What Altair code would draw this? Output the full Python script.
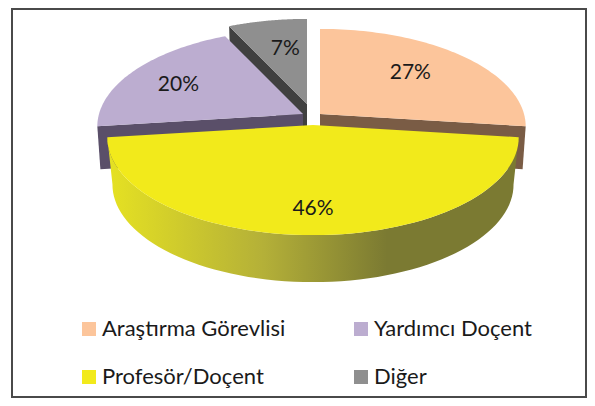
import math
import altair as alt
import pandas as pd

# ---- chart values ----
categories = ["Araştırma Görevlisi", "Profesör/Doçent", "Yardımcı Doçent", "Diğer"]
shares = [27, 46, 20, 7]
top_colors = ["#fcc59b", "#f2ea1b", "#bcadd0", "#8f8f8f"]
wall_colors = ["#7a5c45", None, "#5a4f69", "#404040"]
# exploded apex of each slice in the picture's pixel space
apex_x = [320, 313, 303, 307]
apex_y = [114, 125, 114, 104]
label_radius = [0.64, 0.76, 0.74, 0.55]
label_lift = [-4, 0, 3, -9]

RX, RY, PERSPECTIVE = 204, 96, 0.128
WALL, SIDE = 43, 47
W, H = 579, 390
ORIGIN = 8


def project(i, phi, radial=1.0, drop=0.0, shrink=1.0):
    u, v = math.sin(phi), math.cos(phi)
    s = radial / (1 + PERSPECTIVE * v)
    return (apex_x[i] + RX * u * s * shrink, apex_y[i] - RY * v * s + drop)


def bounds(i):
    start = sum(shares[:i]) / 100 * 2 * math.pi
    return start, start + shares[i] / 100 * 2 * math.pi


def arc(i, a, b, n=70, **kw):
    return [project(i, a + (b - a) * k / n, **kw) for k in range(n + 1)]


def frame_of(points, kat):
    return pd.DataFrame(
        [{"px": p[0], "py": p[1], "seq": k, "kat": kat} for k, p in enumerate(points)]
    )


x_enc = alt.X("px:Q", scale=alt.Scale(domain=[ORIGIN, ORIGIN + W]), axis=None)
y_enc = alt.Y("py:Q", scale=alt.Scale(domain=[ORIGIN + H, ORIGIN]), axis=None)


def poly(points, fill):
    return (
        alt.Chart(frame_of(points, "w"))
        .mark_line(fill=fill, strokeOpacity=0, clip=False)
        .encode(x=x_enc, y=y_enc, order=alt.Order("seq:Q"))
    )


def wall(i, phi):
    a = (apex_x[i], apex_y[i])
    t = project(i, phi)
    tb = project(i, phi, drop=WALL, shrink=0.985)
    return [a, t, tb, (a[0], a[1] + WALL)]


layers = []
# radial walls, back to front
s3, e3 = bounds(3)
layers.append(poly(wall(3, s3), wall_colors[3]))
s2, e2 = bounds(2)
layers.append(poly(wall(2, s2), wall_colors[2]))
s0, e0 = bounds(0)
layers.append(poly(wall(0, e0), wall_colors[0]))

# yellow rim
s1, e1 = bounds(1)
rim = arc(1, s1, e1) + arc(1, e1, s1, drop=SIDE, shrink=0.975)
rim_fill = alt.Gradient(
    gradient="linear", x1=0, x2=1, y1=0, y2=0,
    stops=[
        alt.GradientStop(offset=0, color="#e6e222"),
        alt.GradientStop(offset=0.38, color="#b4b038"),
        alt.GradientStop(offset=0.68, color="#7b7a32"),
        alt.GradientStop(offset=1, color="#7b7a32"),
    ],
)
layers.append(poly(rim, rim_fill))

# top faces with the legend
tops = []
for i in [3, 2, 0, 1]:
    a, b = bounds(i)
    pts = [(apex_x[i], apex_y[i])] + arc(i, a, b)
    tops.append(frame_of(pts, categories[i]))
tops = pd.concat(tops, ignore_index=True)
layers.append(
    alt.Chart(tops)
    .mark_line(strokeOpacity=0)
    .encode(
        x=x_enc,
        y=y_enc,
        order=alt.Order("seq:Q"),
        fill=alt.Fill(
            "kat:N",
            scale=alt.Scale(domain=categories, range=top_colors),
            legend=alt.Legend(
                title=None,
                orient="none",
                legendX=70,
                legendY=310,
                columns=2,
                symbolType="square",
                symbolSize=196,
                symbolStrokeWidth=0,
                symbolOpacity=1,
                labelFont="Lato",
                labelFontSize=22,
                labelColor="#1a1a1a",
                labelLimit=300,
                labelOffset=2,
                columnPadding=64,
                rowPadding=26,
                gridAlign="all",
            ),
        ),
    )
)

# percent labels
labels = []
for i, sh in enumerate(shares):
    a, b = bounds(i)
    p = project(i, (a + b) / 2, radial=label_radius[i])
    labels.append({"px": p[0], "py": p[1] + label_lift[i], "txt": f"{sh}%"})
layers.append(
    alt.Chart(pd.DataFrame(labels))
    .mark_text(font="Lato", fontSize=21, color="#1a1a1a", align="center", baseline="middle")
    .encode(x=x_enc, y=y_enc, text="txt:N")
)

# outer frame
frame_x = [12, 586]
frame_y = [9, 397]
layers.append(
    alt.Chart(pd.DataFrame({"px": [frame_x[0]], "px2": [frame_x[1]], "py": [frame_y[0]], "py2": [frame_y[1]]}))
    .mark_rect(fillOpacity=0, stroke="#4a4a4a", strokeWidth=2)
    .encode(x=x_enc, x2="px2:Q", y=y_enc, y2="py2:Q")
)

chart = (
    alt.layer(*layers)
    .properties(width=W, height=H, padding=0, autosize=alt.AutoSizeParams(type="none"))
    .configure_view(strokeWidth=0)
)

chart.save("out.html", embed_options={"renderer": "svg", "actions": False})
